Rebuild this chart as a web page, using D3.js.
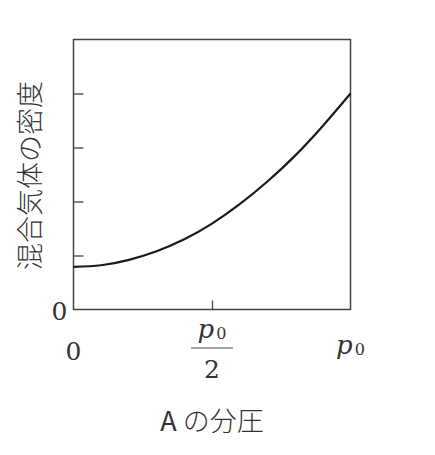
<!DOCTYPE html>
<html>
<head>
<meta charset="utf-8">
<script src="https://d3js.org/d3.v7.min.js"></script>
<style>
  body { margin: 0; background: #fff; }
  text { fill: #333; }
</style>
</head>
<body>
<script>
// values (x in units of p0, y in tick units)
var pressure = [0, 0.1, 0.2, 0.3, 0.4, 0.5, 0.6, 0.7, 0.8, 0.9, 1.0];
var density  = [0.79, 0.82, 0.92, 1.08, 1.30, 1.59, 1.95, 2.37, 2.85, 3.40, 4.00];
var yTicks = [1, 2, 3, 4];
var xTicks = [0.5];
var yLabel = "混合気体の密度";
var xLabel = "A の分圧";

var width = 435, height = 455;
var plotLeft = 73.5, plotRight = 350.5, plotTop = 39.5, plotBottom = 309.5;

var svg = d3.select("body").append("svg")
  .attr("width", width)
  .attr("height", height);

var x = d3.scaleLinear().domain([0, 1]).range([plotLeft, plotRight]);
var y = d3.scaleLinear().domain([0, 5]).range([plotBottom, plotTop]);

// frame
svg.append("rect")
  .attr("x", plotLeft).attr("y", plotTop)
  .attr("width", plotRight - plotLeft).attr("height", plotBottom - plotTop)
  .attr("fill", "none").attr("stroke", "#444").attr("stroke-width", 1.5);

// inner ticks
svg.append("g")
  .attr("transform", "translate(" + plotLeft + ",0)")
  .call(d3.axisLeft(y).tickValues(yTicks).tickSizeInner(-10).tickSizeOuter(0).tickFormat(""))
  .call(function(g) { g.select(".domain").remove(); })
  .selectAll("line").attr("stroke", "#444").attr("stroke-width", 1.3);

svg.append("g")
  .attr("transform", "translate(0," + plotBottom + ")")
  .call(d3.axisBottom(x).tickValues(xTicks).tickSizeInner(-9).tickSizeOuter(0).tickFormat(""))
  .call(function(g) { g.select(".domain").remove(); })
  .selectAll("line").attr("stroke", "#444").attr("stroke-width", 1.3);

// curve
var line = d3.line()
  .x(function(d, i) { return x(pressure[i]); })
  .y(function(d) { return y(d); })
  .curve(d3.curveNatural);

svg.append("path")
  .datum(density)
  .attr("d", line)
  .attr("fill", "none")
  .attr("stroke", "#1a1a1a")
  .attr("stroke-width", 2.2);

var serif = "'DejaVu Serif', 'Liberation Serif', serif";

// y origin label
svg.append("text")
  .attr("x", plotLeft - 14).attr("y", y(0) + 10)
  .attr("text-anchor", "middle")
  .style("font-family", serif).style("font-size", "25px")
  .text("0");

// x tick labels
svg.append("text")
  .attr("x", x(0)).attr("y", 360)
  .attr("text-anchor", "middle")
  .style("font-family", serif).style("font-size", "25px")
  .text("0");

function pSub(g, cx, baseline) {
  var t = g.append("text")
    .attr("x", cx).attr("y", baseline)
    .attr("text-anchor", "middle")
    .style("font-family", serif);
  t.append("tspan").style("font-style", "italic").style("font-size", "26px").text("p");
  t.append("tspan").attr("dx", 2).attr("dy", 1).style("font-size", "16px").text("0");
}

var half = svg.append("g");
pSub(half, x(0.5), 338);
half.append("line")
  .attr("x1", x(0.5) - 21).attr("x2", x(0.5) + 21)
  .attr("y1", 348).attr("y2", 348)
  .attr("stroke", "#444").attr("stroke-width", 1.2);
half.append("text")
  .attr("x", x(0.5)).attr("y", 378)
  .attr("text-anchor", "middle")
  .style("font-family", serif).style("font-size", "25px")
  .text("2");

pSub(svg, x(1), 354);

// axis titles
svg.append("text")
  .attr("transform", "translate(40," + ((plotTop + plotBottom) / 2 + 1) + ") rotate(-90)")
  .attr("text-anchor", "middle")
  .style("font-family", "'Noto Sans CJK JP', sans-serif")
  .style("font-weight", 300)
  .style("font-size", "27px")
  .text(yLabel);

var xt = svg.append("text")
  .attr("x", 212).attr("y", 431)
  .attr("text-anchor", "middle")
  .style("font-family", "'Noto Sans CJK JP', sans-serif")
  .style("font-weight", 300)
  .style("font-size", "27px");
xt.append("tspan").style("font-weight", 400).text(xLabel.slice(0, 1));
xt.append("tspan").text(xLabel.slice(1));
</script>
</body>
</html>
